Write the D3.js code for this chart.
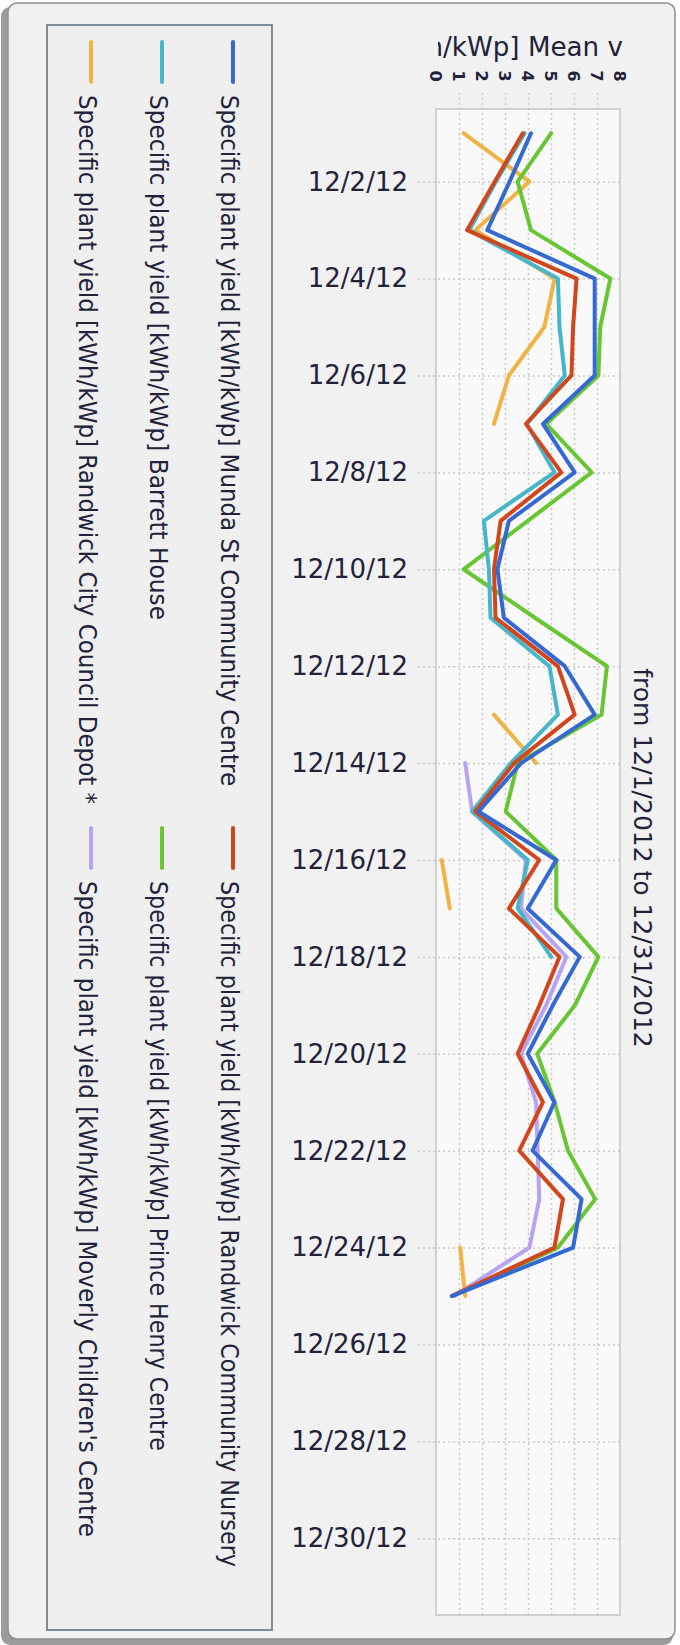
<!DOCTYPE html>
<html>
<head>
<meta charset="utf-8">
<script src="https://cdn.jsdelivr.net/npm/d3@7"></script>
<style>
  body { margin: 0; background: #fff; }
  svg { display: block; }
</style>
</head>
<body>
<div id="chart"></div>
<script>
// days with readings (12/1 .. 12/25), null = no reading that day
const days = ["2012-12-01", "2012-12-02", "2012-12-03", "2012-12-04", "2012-12-05",
  "2012-12-06", "2012-12-07", "2012-12-08", "2012-12-09", "2012-12-10",
  "2012-12-11", "2012-12-12", "2012-12-13", "2012-12-14", "2012-12-15",
  "2012-12-16", "2012-12-17", "2012-12-18", "2012-12-19", "2012-12-20",
  "2012-12-21", "2012-12-22", "2012-12-23", "2012-12-24", "2012-12-25"]

const mundaSt = [4.13, 3.2, 2.23, 6.9, 6.9, 6.9, 4.65, 6.03, 3.17, 2.67, 2.95, 5.6, 6.9,
  3.7, 1.85, 5.23, 3.99, 6.25, 5.08, 3.99, 5.15, 4.2, 6.33, 5.96, 0.69]
const randwickNursery = [3.77, 2.55, 1.35, 6.11, 5.96, 5.89, 3.91, 5.45, 2.81, 2.52, 2.59, 5.3, 6.03,
  3.4, 1.71, 4.49, 3.17, 5.37, 4.5, 3.55, 4.65, 3.62, 5.52, 5.15, 0.69]
const barrettHouse = [3.85, 2.6, 1.45, 5.3, 5.37, 5.6, 3.95, 5.15, 2.08, 2.3, 2.37, 4.93, 5.3,
  3.25, 1.57, 3.99, 3.55, 5.01, null, null, null, null, null, null, null]
const princeHenry = [5.01, 3.55, 4.13, 7.58, 7.14, 7.06, 4.79, 6.77, 3.99, 1.2, 4.3, 7.43, 7.2,
  3.55, 3.03, 5.23, 5.23, 7.06, 6.04, 4.4, 5.16, 5.74, 6.92, 5.3, 0.69]
const councilDepot = [1.2, 4.06, 1.71, 5.16, 4.71, 3.17, 2.52, null, null, null, null, null, 2.52,
  4.35, null, 0.25, 0.6, null, null, null, null, null, null, 1.05, 1.27]
const moverly = [null, null, null, null, null, null, null, null, null, null, null, null, null,
  1.27, 1.57, 3.91, 3.69, 5.67, 4.79, 3.69, 4.35, 4.42, 4.49, 4.06, 0.8]

const seriesNames = [
  "Specific plant yield [kWh/kWp] Munda St Community Centre",
  "Specific plant yield [kWh/kWp] Randwick Community Nursery",
  "Specific plant yield [kWh/kWp] Barrett House",
  "Specific plant yield [kWh/kWp] Prince Henry Centre",
  "Specific plant yield [kWh/kWp] Randwick City Council Depot *",
  "Specific plant yield [kWh/kWp] Moverly Children's Centre"]
const seriesValues = [mundaSt, randwickNursery, barrettHouse, princeHenry, councilDepot, moverly]
const seriesColors = ["#3468d2", "#d2461e", "#47b6c9", "#68c533", "#f0b446", "#b8a3f2"]

const valueTicks = [0, 1, 2, 3, 4, 5, 6, 7, 8]
const dateTicks = ["2012-12-02", "2012-12-04", "2012-12-06", "2012-12-08", "2012-12-10",
  "2012-12-12", "2012-12-14", "2012-12-16", "2012-12-18", "2012-12-20",
  "2012-12-22", "2012-12-24", "2012-12-26", "2012-12-28", "2012-12-30"]

const parse = d3.timeParse("%Y-%m-%d")
const font = "'DejaVu Sans', Verdana, sans-serif"

const svg = d3.select("#chart").append("svg")
  .attr("width", 680)
  .attr("height", 1645)

// panel with its shadow
svg.append("rect")
  .attr("x", 1).attr("y", 7).attr("width", 672).attr("height", 1638).attr("rx", 9)
  .attr("fill", "#9c9c9c")
svg.append("rect")
  .attr("x", 8).attr("y", 3).attr("width", 667).attr("height", 1636).attr("rx", 9)
  .attr("fill", "#f1f1f1").attr("stroke", "#8f8f8f").attr("stroke-width", 1.5)

// the chart is drawn turned a quarter: dates run down, values run right
const plotL = 436, plotR = 620, plotT = 109, plotB = 1615

var x = d3.scaleLinear().domain([0, 8]).range([plotL, plotR])
var y = d3.scaleTime()
  .domain([d3.timeHour.offset(parse("2012-12-01"), -11.6), d3.timeHour.offset(parse("2012-12-31"), 14.4)])
  .range([plotT, plotB])

svg.append("rect")
  .attr("x", plotL).attr("y", plotT).attr("width", plotR - plotL).attr("height", plotB - plotT)
  .attr("fill", "#f9f9f9")

// value grid
svg.append("g")
  .attr("transform", "translate(0," + plotB + ")")
  .call(d3.axisTop(x).tickValues(valueTicks.slice(1, -1)).tickSize(plotB - 93).tickFormat(""))
  .call(g => g.select(".domain").remove())
  .selectAll("line")
  .attr("stroke", "#c9c9c9").attr("stroke-width", 1.5).attr("stroke-dasharray", "2,3")

// date grid + labels
var dateAxis = svg.append("g")
  .attr("transform", "translate(" + plotR + ",0)")
  .call(d3.axisLeft(y)
    .tickValues(dateTicks.map(parse))
    .tickSize(plotR - 418)
    .tickPadding(10)
    .tickFormat(d3.timeFormat("%-m/%-d/%y")))
dateAxis.select(".domain").remove()
dateAxis.selectAll("line")
  .attr("stroke", "#c9c9c9").attr("stroke-width", 1.5).attr("stroke-dasharray", "2,3")
dateAxis.selectAll("text")
  .attr("fill", "#22223a")
  .style("font-family", font)
  .style("font-size", "26px")

svg.append("rect")
  .attr("x", plotL).attr("y", plotT).attr("width", plotR - plotL).attr("height", plotB - plotT)
  .attr("fill", "none").attr("stroke", "#c4c4c4").attr("stroke-width", 1.5)

// value tick labels, turned like the rest
svg.append("g").selectAll("text")
  .data(valueTicks)
  .join("text")
  .attr("transform", d => "translate(" + x(d) + ",76) rotate(90)")
  .attr("text-anchor", "middle")
  .attr("dy", "0.36em")
  .attr("fill", "#22223a")
  .style("font-family", font)
  .style("font-size", "16px")
  .style("font-weight", "bold")
  .text(d => d)

// axis title, cut by the panel like in the original
svg.append("clipPath").attr("id", "titleClip")
  .append("rect").attr("x", 438).attr("y", 20).attr("width", 186).attr("height", 60)
var axisTitle = svg.append("text")
  .attr("clip-path", "url(#titleClip)")
  .attr("y", 56)
  .attr("fill", "#22223a")
  .style("font-family", font)
  .style("font-size", "21px")
  .text("h/kWp] Mean value")
var visLen = axisTitle.node().getSubStringLength(1, 12)
var fs = 21 * 180 / visLen
axisTitle.style("font-size", fs + "px")
axisTitle.attr("x", 443 - axisTitle.node().getSubStringLength(0, 1))

// series
var line = d3.line()
  .defined(d => d.v != null)
  .x(d => x(d.v))
  .y(d => y(d.date))

var drawOrder = [4, 5, 3, 2, 1, 0]
svg.append("g").selectAll("path")
  .data(drawOrder)
  .join("path")
  .attr("fill", "none")
  .attr("stroke", i => seriesColors[i])
  .attr("stroke-width", 4)
  .attr("stroke-linejoin", "round")
  .attr("stroke-linecap", "round")
  .attr("d", i => line(seriesValues[i].map((v, k) => ({ date: parse(days[k]), v: v }))))

// legend
svg.append("rect")
  .attr("x", 47).attr("y", 25).attr("width", 225).attr("height", 1605)
  .attr("fill", "#efefef").attr("stroke", "#7f8b97").attr("stroke-width", 2)

var legendX = [233, 233, 162, 162, 91, 91]
var legendY = [42, 828, 42, 828, 42, 828]
var legendLen = [691, 686, 525, 570, 709, 656]

var legend = svg.append("g").selectAll("g")
  .data(seriesNames)
  .join("g")
  .attr("transform", (d, i) => "translate(" + legendX[i] + "," + legendY[i] + ")")

legend.append("line")
  .attr("x1", 0).attr("x2", 0).attr("y1", 0).attr("y2", 40)
  .attr("stroke", (d, i) => seriesColors[i])
  .attr("stroke-width", 4)
  .attr("stroke-linecap", "round")

legend.append("text")
  .attr("transform", "translate(-3,53) rotate(90)")
  .attr("dy", "0.36em")
  .attr("textLength", (d, i) => legendLen[i])
  .attr("lengthAdjust", "spacingAndGlyphs")
  .attr("fill", "#22223a")
  .style("font-family", font)
  .style("font-size", "25px")
  .text(d => d)

// period title
svg.append("text")
  .attr("transform", "translate(643,858) rotate(90)")
  .attr("text-anchor", "middle")
  .attr("dy", "0.36em")
  .attr("fill", "#22223a")
  .style("font-family", font)
  .style("font-size", "25px")
  .text("from 12/1/2012 to 12/31/2012")
</script>
</body>
</html>
